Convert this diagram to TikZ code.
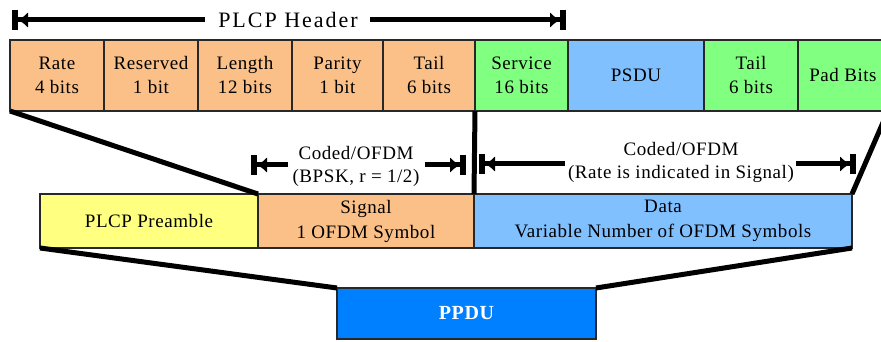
\documentclass[tikz,border=0pt]{standalone}
\usepackage{fontspec}
\setmainfont{Liberation Serif}[LetterSpace=3]
\newfontfamily\hdrfont{Liberation Serif}[LetterSpace=9]
\usetikzlibrary{arrows.meta}
\definecolor{corange}{RGB}{250,192,136}
\definecolor{cgreen}{RGB}{128,255,128}
\definecolor{cblue}{RGB}{128,192,255}
\definecolor{cyellow}{RGB}{255,255,128}
\definecolor{cppdu}{RGB}{0,128,255}
\definecolor{cborder}{RGB}{40,40,40}
\begin{document}
\begin{tikzpicture}[x=1pt,y=-1pt,
  cell/.style={draw=cborder, line width=1.3pt, anchor=north west, inner sep=0pt, outer sep=0pt,
    align=center, font=\fontsize{19}{24}\selectfont},
  toprow/.style={cell, minimum height=71pt},
  midrow/.style={cell, minimum height=54pt, font=\fontsize{19}{25}\selectfont},
  conn/.style={line width=5pt},
  dimarrow/.style={line width=5pt, -{Latex[length=10pt,width=16pt] Bar[width=20pt,line width=6pt]}},
  lbl/.style={align=center, font=\fontsize{19}{23}\selectfont, inner sep=0pt}
]
\useasboundingbox (0,0) rectangle (881,342);
\begin{scope}
\clip (0,0) rectangle (881,342);

% top row
\node[toprow, fill=corange, minimum width=94pt] (rate) at (10,40) {Rate\\4 bits};
\node[toprow, fill=corange, minimum width=94pt] (reserved) at (104,40) {Reserved\\1 bit};
\node[toprow, fill=corange, minimum width=94pt] (length) at (198,40) {Length\\12 bits};
\node[toprow, fill=corange, minimum width=91pt] (parity) at (292,40) {Parity\\1 bit};
\node[toprow, fill=corange, minimum width=92pt] (tail1) at (383,40) {Tail\\6 bits};
\node[toprow, fill=cgreen, minimum width=93pt] (service) at (475,40) {Service\\16 bits};
\node[toprow, fill=cblue, minimum width=136pt] (psdu) at (568,40) {PSDU};
\node[toprow, fill=cgreen, minimum width=94pt] (tail2) at (704,40) {Tail\\6 bits};
\node[toprow, fill=cgreen, minimum width=90pt] (pad) at (798,40) {Pad Bits};

% middle row
\node[midrow, fill=cyellow, minimum width=218pt] (preamble) at (40,194) {PLCP Preamble};
\node[midrow, fill=corange, minimum width=216pt] (signal) at (258,194) {Signal\\1 OFDM Symbol};
\node[midrow, fill=cblue, minimum width=378pt] (data) at (474,194) {Data\\Variable Number of OFDM Symbols};

% PPDU
\node[cell, fill=cppdu, minimum width=259pt, minimum height=51pt, text=white,
  font=\fontsize{20}{24}\selectfont\bfseries] (ppdu) at (337,288) {PPDU};

% connectors
\draw[conn] (rate.south west) -- (signal.north west);
\draw[conn] (service.south west) -- (data.north west);
\draw[conn] (data.north east) -- (pad.south east);
\draw[conn] (preamble.south west) -- (ppdu.north west);
\draw[conn] (data.south east) -- (ppdu.north east);

% PLCP header dimension
\node[inner sep=0pt, font=\fontsize{22}{26}\selectfont\hdrfont] (hdr) at (288,20) {PLCP Header};
\coordinate (hl) at (12,20);
\coordinate (hr) at (566,20);
\draw[dimarrow] ([xshift=-13pt]hdr.west) -- (hl);
\draw[dimarrow] ([xshift=12pt]hdr.east) -- (hr);

% Signal dimension
\node[lbl] (sigtxt) at (356,166) {Coded/OFDM\\(BPSK, r = 1/2)};
\coordinate (sl) at (251,165);
\coordinate (sr) at (466,165);
\draw[dimarrow] (sigtxt.west |- sl) ++(-4pt,0) -- (sl);
\draw[dimarrow] (sigtxt.east |- sr) ++(5pt,0) -- (sr);

% Data dimension
\node[lbl] (datatxt) at (681,162) {Coded/OFDM\\(Rate is indicated in Signal)};
\coordinate (dl) at (479,164);
\coordinate (dr) at (856,164);
\draw[dimarrow] (datatxt.west |- dl) ++(-3pt,0) -- (dl);
\draw[dimarrow] (datatxt.east |- dr) ++(2pt,0) -- (dr);
\end{scope}
\end{tikzpicture}
\end{document}
